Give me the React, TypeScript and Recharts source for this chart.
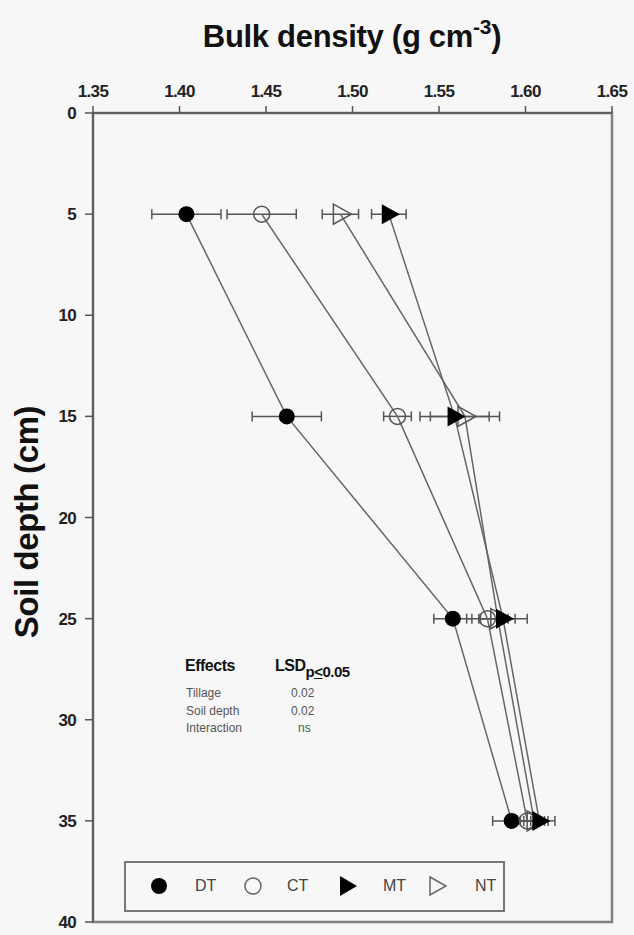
import React from "react";
import { ScatterChart, Scatter, XAxis, YAxis, ErrorBar, ReferenceArea } from "recharts";

const depths = [5, 15, 25, 35];
const dtDensity = [1.404, 1.462, 1.558, 1.592];
const dtError = [0.02, 0.02, 0.011, 0.011];
const ctDensity = [1.4475, 1.526, 1.578, 1.601];
const ctError = [0.02, 0.008, 0.012, 0.01];
const mtDensity = [1.521, 1.559, 1.587, 1.608];
const mtError = [0.01, 0.02, 0.014, 0.009];
const ntDensity = [1.493, 1.565, 1.584, 1.605];
const ntError = [0.0105, 0.02, 0.01, 0.008];

const xTicks = [1.35, 1.4, 1.45, 1.5, 1.55, 1.6, 1.65];
const yTicks = [0, 5, 10, 15, 20, 25, 30, 35, 40];
const seriesNames = ["DT", "CT", "MT", "NT"];
const effectNames = ["Tillage", "Soil depth", "Interaction"];
const lsdValues = ["0.02", "0.02", "ns"];

const toRows = (dens: number[], errs: number[]) =>
  depths.map((d, i) => ({ x: dens[i], y: d, err: errs[i] }));

const dtData = toRows(dtDensity, dtError);
const ctData = toRows(ctDensity, ctError);
const mtData = toRows(mtDensity, mtError);
const ntData = toRows(ntDensity, ntError);

const FONT = "'Liberation Sans', Arial, sans-serif";
const LINE = "#666";
const ERR = "#555";

const DtShape = (p: any) => <circle cx={p.cx} cy={p.cy} r={8} fill="#000" />;
const CtShape = (p: any) => (
  <circle cx={p.cx} cy={p.cy} r={8} fill="none" stroke="#555" strokeWidth={1.5} />
);
const triPoints = (cx: number, cy: number) =>
  `${cx - 7},${cy - 10} ${cx + 11},${cy} ${cx - 7},${cy + 10}`;
const MtShape = (p: any) => <polygon points={triPoints(p.cx, p.cy)} fill="#000" />;
const NtShape = (p: any) => (
  <polygon points={triPoints(p.cx, p.cy)} fill="none" stroke="#555" strokeWidth={1.5} />
);

const LegendIcon = ({ kind }: { kind: string }) => {
  if (kind === "DT")
    return (
      <svg width={22} height={22}>
        <circle cx={11} cy={11} r={8} fill="#000" />
      </svg>
    );
  if (kind === "CT")
    return (
      <svg width={22} height={22}>
        <circle cx={11} cy={11} r={8} fill="none" stroke="#666" strokeWidth={1.5} />
      </svg>
    );
  if (kind === "MT")
    return (
      <svg width={22} height={22}>
        <polygon points="3,1 20,11 3,21" fill="#000" />
      </svg>
    );
  return (
    <svg width={22} height={22}>
      <polygon points="3,2 19,11 3,20" fill="none" stroke="#666" strokeWidth={1.5} />
    </svg>
  );
};

const legendIconX = [35, 129, 224, 314];
const legendTextX = [71, 163, 259, 351];

export default function App() {
  const tickStyle = {
    fontSize: 17,
    fontWeight: 700,
    fill: "#222",
    fontFamily: FONT,
    letterSpacing: -0.7,
  };
  return (
    <div
      style={{
        position: "fixed",
        left: 0,
        top: 0,
        width: 634,
        height: 935,
        background: "#f7f7f7",
        fontFamily: FONT,
        overflow: "hidden",
      }}
    >
      <ScatterChart
        width={634}
        height={935}
        margin={{ top: 83, left: 33, right: 22, bottom: 13 }}
        style={{ fontFamily: FONT, overflow: "visible" }}
      >
        <ReferenceArea
          x1={1.35}
          x2={1.65}
          y1={0}
          y2={40}
          fill="none"
          stroke="#808080"
          strokeWidth={2.5}
          ifOverflow="visible"
        />
        <XAxis
          type="number"
          dataKey="x"
          orientation="top"
          domain={[1.35, 1.65]}
          allowDataOverflow
          ticks={xTicks}
          interval={0}
          height={30}
          tickSize={7}
          tickMargin={9}
          tickFormatter={(v: number) => v.toFixed(2)}
          axisLine={{ stroke: "#555", strokeWidth: 1.5 }}
          tickLine={{ stroke: "#555", strokeWidth: 1.5 }}
          tick={tickStyle}
        />
        <YAxis
          type="number"
          dataKey="y"
          domain={[0, 40]}
          allowDataOverflow
          reversed
          ticks={yTicks}
          interval={0}
          width={60}
          tickSize={8}
          tickMargin={9}
          axisLine={{ stroke: "#555", strokeWidth: 1.5 }}
          tickLine={{ stroke: "#555", strokeWidth: 1.5 }}
          tick={tickStyle}
        />
        <Scatter
          name="DT"
          data={dtData}
          line={{ stroke: LINE, strokeWidth: 1.5 }}
          lineType="joint"
          shape={DtShape}
          isAnimationActive={false}
        >
          <ErrorBar dataKey="err" direction="x" width={5} stroke={ERR} strokeWidth={1.5} />
        </Scatter>
        <Scatter
          name="CT"
          data={ctData}
          line={{ stroke: LINE, strokeWidth: 1.5 }}
          lineType="joint"
          shape={CtShape}
          isAnimationActive={false}
        >
          <ErrorBar dataKey="err" direction="x" width={5} stroke={ERR} strokeWidth={1.5} />
        </Scatter>
        <Scatter
          name="NT"
          data={ntData}
          line={{ stroke: LINE, strokeWidth: 1.5 }}
          lineType="joint"
          shape={NtShape}
          isAnimationActive={false}
        >
          <ErrorBar dataKey="err" direction="x" width={5} stroke={ERR} strokeWidth={1.5} />
        </Scatter>
        <Scatter
          name="MT"
          data={mtData}
          line={{ stroke: LINE, strokeWidth: 1.5 }}
          lineType="joint"
          shape={MtShape}
          isAnimationActive={false}
        >
          <ErrorBar dataKey="err" direction="x" width={5} stroke={ERR} strokeWidth={1.5} />
        </Scatter>
      </ScatterChart>

      {/* Title */}
      <div
        style={{
          position: "absolute",
          left: 0,
          width: 704,
          top: 19,
          textAlign: "center",
          fontSize: 31,
          fontWeight: 700,
          color: "#111",
          whiteSpace: "nowrap",
          letterSpacing: -0.3,
          lineHeight: "36px",
        }}
      >
        Bulk density (g cm
        <sup style={{ fontSize: 21, verticalAlign: "baseline", position: "relative", top: -13 }}>
          -3
        </sup>
        )
      </div>

      {/* Y label */}
      <div
        style={{
          position: "absolute",
          left: 27,
          top: 522,
          transform: "translate(-50%, -50%) rotate(-90deg)",
          fontSize: 33,
          fontWeight: 700,
          color: "#111",
          whiteSpace: "nowrap",
          letterSpacing: -0.4,
          lineHeight: "36px",
        }}
      >
        Soil depth (cm)
      </div>

      {/* Effects table */}
      <div style={{ position: "absolute", left: 185, top: 657, fontSize: 16, fontWeight: 700, color: "#111", letterSpacing: -0.5 }}>
        Effects
      </div>
      <div style={{ position: "absolute", left: 275, top: 657, fontSize: 16, fontWeight: 700, color: "#111", letterSpacing: -0.5, whiteSpace: "nowrap" }}>
        LSD
        <span style={{ fontSize: 15, position: "relative", top: 6 }}>
          p<span style={{ textDecoration: "underline" }}>{"<"}</span>0.05
        </span>
      </div>
      {effectNames.map((n, i) => (
        <React.Fragment key={n}>
          <div
            style={{
              position: "absolute",
              left: 186,
              top: 686 + i * 17.5,
              fontSize: 12,
              color: "#555",
              whiteSpace: "nowrap",
            }}
          >
            {n}
          </div>
          <div
            style={{
              position: "absolute",
              left: lsdValues[i] === "ns" ? 298 : 291,
              top: 686 + i * 17.5,
              fontSize: 12,
              color: "#555",
            }}
          >
            {lsdValues[i]}
          </div>
        </React.Fragment>
      ))}

      {/* Legend */}
      <div
        style={{
          position: "absolute",
          left: 124,
          top: 861,
          width: 381,
          height: 51,
          border: "2px solid #777",
          boxSizing: "border-box",
        }}
      >
        {seriesNames.map((s, i) => (
          <React.Fragment key={s}>
            <div style={{ position: "absolute", left: legendIconX[i] - 13, top: 12, width: 22, height: 22 }}>
              <LegendIcon kind={s} />
            </div>
            <div
              style={{
                position: "absolute",
                left: legendTextX[i] - 2,
                top: 13,
                fontSize: 16,
                color: "#444",
                lineHeight: "20px",
              }}
            >
              {s}
            </div>
          </React.Fragment>
        ))}
      </div>
    </div>
  );
}
